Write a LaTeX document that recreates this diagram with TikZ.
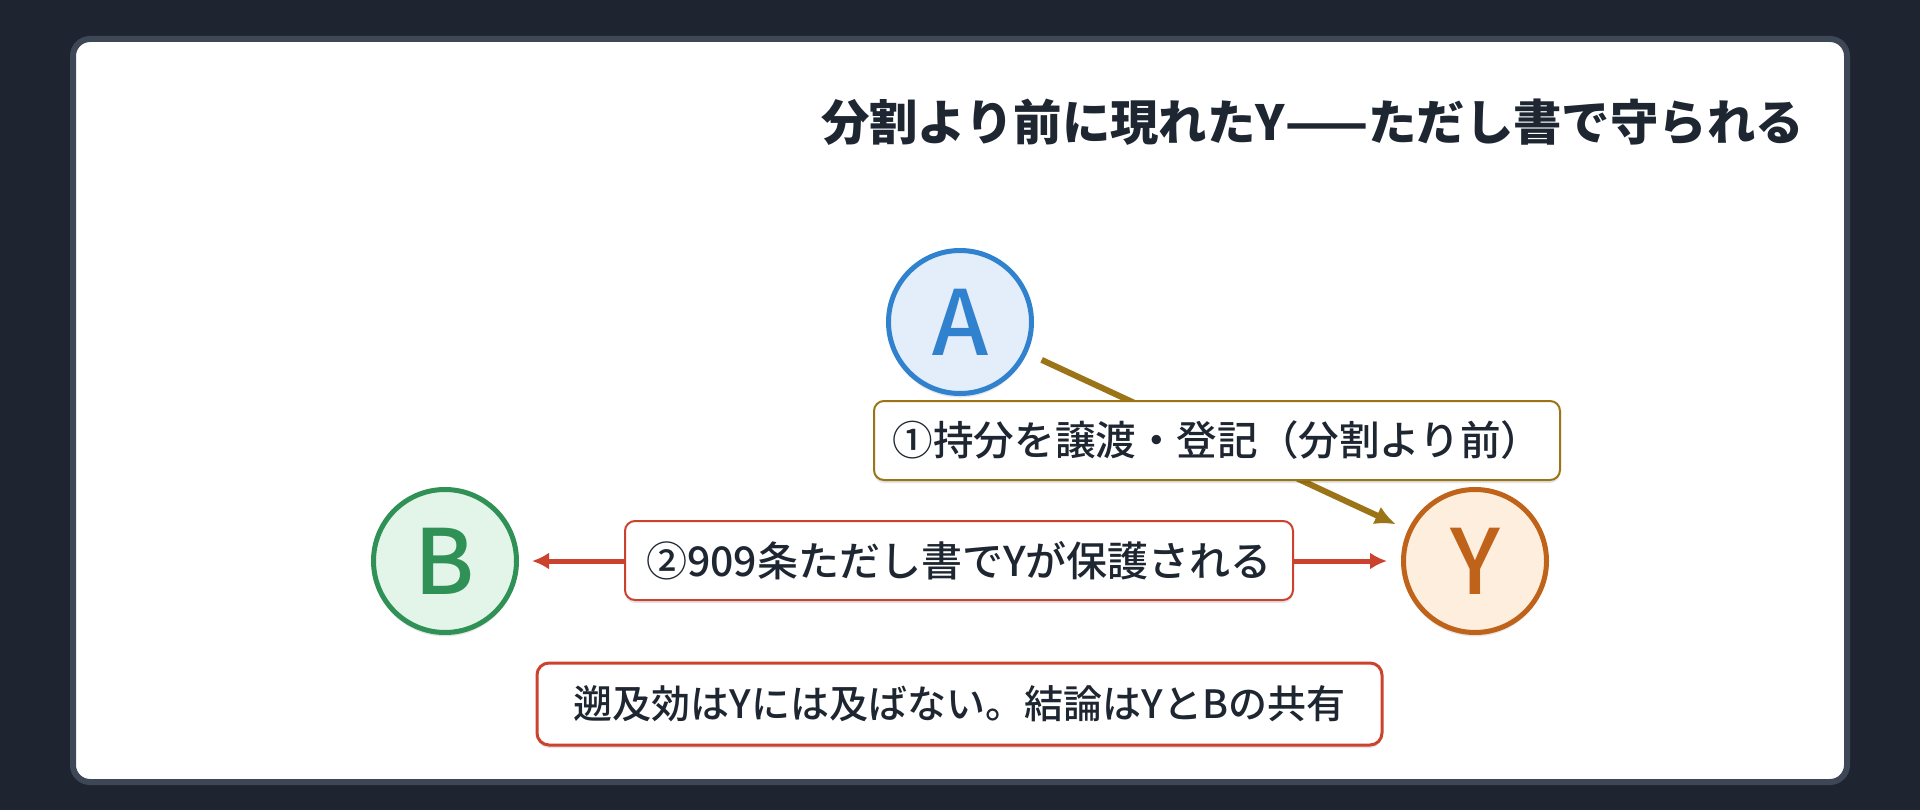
\documentclass[tikz,border=0pt]{standalone}
\usepackage{fontspec}
\setmainfont{Noto Sans CJK JP}
\newfontfamily\jpmed{Noto Sans CJK JP Medium}
\usetikzlibrary{arrows.meta,shadows}
\definecolor{bgdark}{HTML}{1E2530}
\definecolor{cardline}{HTML}{3E4756}
\definecolor{inkdark}{HTML}{1E2632}
\definecolor{ablue}{HTML}{3182CE}
\definecolor{afill}{HTML}{E4EEFA}
\definecolor{bgreen}{HTML}{2F9155}
\definecolor{bfill}{HTML}{E3F5E9}
\definecolor{yorange}{HTML}{C0631A}
\definecolor{yfill}{HTML}{FDEEDD}
\definecolor{goldc}{HTML}{9C7418}
\definecolor{redc}{HTML}{CB432F}
\tikzset{
  circ/.style={circle, line width=5pt, minimum size=143pt, inner sep=0pt,
    font=\jpmed\fontsize{90}{90}\selectfont,
    drop shadow={shadow xshift=0pt, shadow yshift=-4pt, opacity=0.10, fill=black}},
  lbox/.style={rectangle, rounded corners=10pt, fill=white, line width=2pt,
    inner sep=0pt, minimum height=79pt, text=inkdark,
    drop shadow={shadow xshift=0pt, shadow yshift=-3pt, opacity=0.10, fill=black}},
  goldarrow/.style={draw=goldc, line width=6pt, -{Latex[length=21pt,width=19pt]}},
  redarrow/.style={draw=redc, line width=5pt, {Latex[length=17pt,width=17pt]}-{Latex[length=17pt,width=17pt]}},
}
\begin{document}
\begin{tikzpicture}[x=1pt,y=-1pt]
\useasboundingbox (0,0) rectangle (1920,810);
\fill[bgdark] (0,0) rectangle (1920,810);
\draw[cardline, fill=white, line width=6pt, rounded corners=17pt] (73,39) rectangle (1847,782);
\node[anchor=base east, inner sep=0pt, text=inkdark, font=\fontsize{48.4}{58}\selectfont\bfseries] (title) at (1804,141) {分割より前に現れたY——ただし書で守られる};
\node[circ, draw=ablue, fill=afill, text=ablue] (A) at (960,322) {A};
\node[circ, draw=bgreen, fill=bfill, text=bgreen] (B) at (445,561) {B};
\node[circ, draw=yorange, fill=yfill, text=yorange] (Y) at (1475,561) {Y};
\draw[goldarrow, shorten <=16pt, shorten >=13pt] (A) -- (Y);
\draw[redarrow, shorten <=13pt, shorten >=14pt] (B) -- (Y);
\node[lbox, draw=goldc, minimum width=686pt, font=\jpmed\fontsize{40.6}{48}\selectfont] (l1) at (1217,440.5) {①持分を譲渡・登記（分割より前）};
\node[lbox, draw=redc, minimum width=668pt, font=\jpmed\fontsize{41}{48}\selectfont] (l2) at (959,560.5) {②909条ただし書でYが保護される};
\node[lbox, draw=redc, line width=3pt, minimum width=845pt, minimum height=82pt, rounded corners=12pt, font=\jpmed\fontsize{39}{46}\selectfont] (l3) at (959.5,704) {遡及効はYには及ばない。結論はYとBの共有};
\end{tikzpicture}
\end{document}
